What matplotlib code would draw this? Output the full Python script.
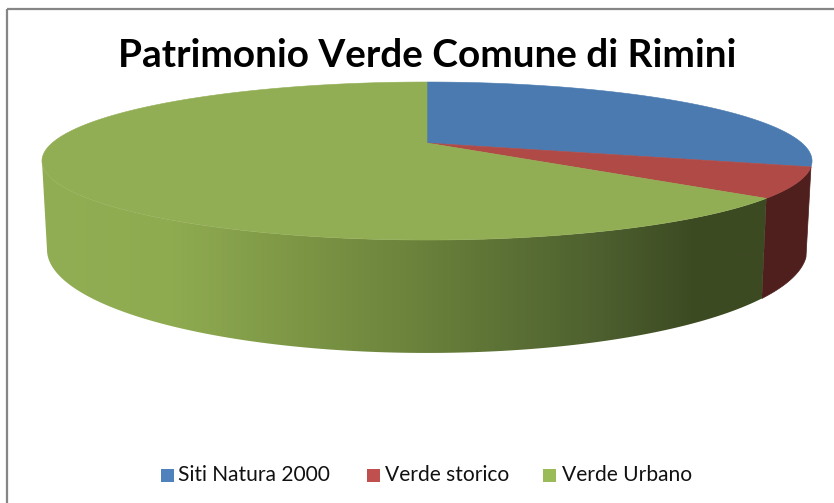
import numpy as np
import matplotlib
matplotlib.use("Agg")
import matplotlib.pyplot as plt
from matplotlib.patches import Polygon, Rectangle
from matplotlib.colors import LinearSegmentedColormap

title = "Patrimonio Verde Comune di Rimini"
categories = ["Siti Natura 2000", "Verde storico", "Verde Urbano"]
values = [29.8, 6.1, 64.1]
top_colors = ["#4a7ab0", "#b04a47", "#92ae54"]
legend_colors = ["#4f81bd", "#c0504d", "#9bbb59"]

CX, K = 427.0, 0.228
TOP = dict(y0=143.0, a=74.9, b=374.9)
BOT = dict(y0=226.0, a=98.0, b=370.0)


def project(t, s):
    X, Y = np.cos(t), np.sin(t)
    d = 1 + K * Y
    return CX + s["b"] * X / d, s["y0"] - s["a"] * Y / d


fig = plt.figure(figsize=(8.34, 5.03), dpi=100)
ax = fig.add_axes([0, 0, 1, 1])
ax.set_xlim(0, 834)
ax.set_ylim(503, 0)
ax.axis("off")

# slice angles, clockwise from 12 o'clock
fr = np.cumsum([0] + values) / sum(values)
ang = np.pi / 2 - 2 * np.pi * fr

# chart frame (open on the right and bottom, where the picture crops it)
ax.add_patch(Rectangle((7.5, 9), 840, 520, fill=False, ec="#868686", lw=1.6, zorder=1))


def side_poly(t0, t1):
    t = np.linspace(t0, t1, 200)
    xt, yt = project(t, TOP)
    xb, yb = project(t[::-1], BOT)
    return np.column_stack([np.r_[xt, xb], np.r_[yt, yb]])


# red side
ax.add_patch(Polygon(side_poly(ang[1], ang[2]), fc="#4e1f1d", ec="#4e1f1d", lw=0.5, zorder=2))

# green side with horizontal gradient
green_poly = Polygon(side_poly(ang[2], -np.pi + np.arcsin(K)), fc="none", ec="none", zorder=3)
ax.add_patch(green_poly)
cmap = LinearSegmentedColormap.from_list("g", [
    (0.0, "#92ae54"), (0.18, "#8fab50"), (0.5, "#6c843c"),
    (0.75, "#4f6230"), (0.9, "#3c4a22"), (1.0, "#3c4a22")])
grad = np.linspace(0, 1, 512).reshape(1, -1)
im = ax.imshow(grad, extent=(42, 770, 360, 140), cmap=cmap, aspect="auto", zorder=3)
im.set_clip_path(green_poly)
ax.set_xlim(0, 834)
ax.set_ylim(503, 0)

# top faces
for i, col in enumerate(top_colors):
    t = np.linspace(ang[i], ang[i + 1], 300)
    x, y = project(t, TOP)
    pts = np.column_stack([np.r_[CX, x], np.r_[TOP["y0"], y]])
    ax.add_patch(Polygon(pts, fc=col, ec=col, lw=0.4, zorder=4))

# title
ax.text(427, 55, title, ha="center", va="center", fontsize=27.95, fontweight="bold",
        family="Lato", color="#000000", zorder=6)

# legend
swatches = [161, 367, 543]
labels_x = [178, 385, 562]
for sx, lx, col, lab in zip(swatches, labels_x, legend_colors, categories):
    ax.add_patch(Rectangle((sx, 469), 13, 13, fc=col, ec="none", zorder=6))
    ax.text(lx, 475, lab, ha="left", va="center", fontsize=15.1, family="Lato",
            color="#111111", zorder=6)

fig.savefig("out.png", dpi=100)
